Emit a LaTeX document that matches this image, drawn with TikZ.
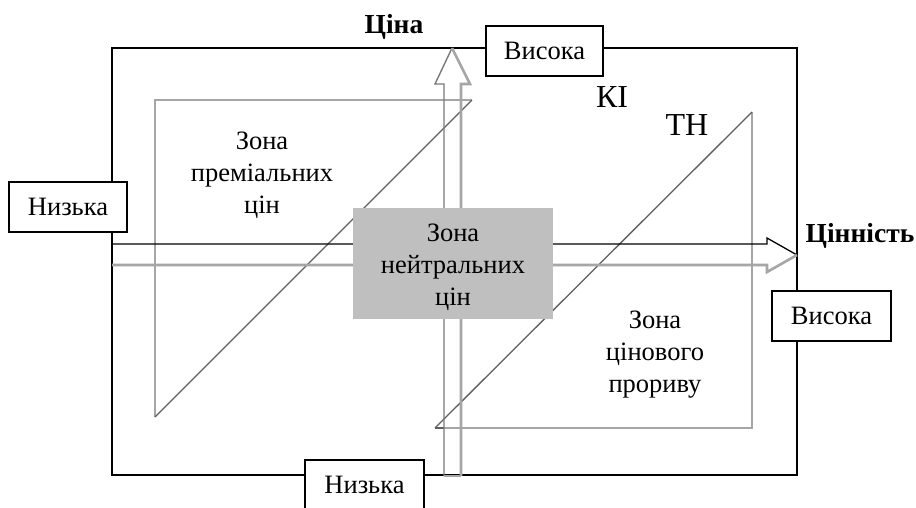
\documentclass[tikz,border=0pt]{standalone}
\usepackage{fontspec}
\setmainfont{Liberation Serif}
\definecolor{edgegray}{HTML}{A6A6A6}
\definecolor{diaggray}{HTML}{5F5F5F}
\definecolor{shaftdark}{HTML}{7A7A7A}
\definecolor{boxgray}{HTML}{BFBFBF}
\begin{document}
\begin{tikzpicture}[x=1pt,y=-1pt,
  every node/.style={inner sep=0pt, outer sep=0pt},
  frame/.style={draw=black, line width=1.4pt},
  triedge/.style={draw=edgegray, line width=2.2pt, line join=miter},
  diagline/.style={draw=diaggray, line width=1.3pt},
  blackrail/.style={draw=black, line width=1.3pt, line join=miter},
  grayrail/.style={draw=edgegray, line width=2.6pt, line join=miter},
  darkrail/.style={draw=shaftdark, line width=1.4pt, line join=miter},
  levelbox/.style={draw=black, line width=1.3pt, fill=white,
    minimum width=117pt, minimum height=50pt, font=\fontsize{26.5}{30}\selectfont},
  zonetext/.style={align=center, font=\fontsize{26.5}{32}\selectfont},
  axisname/.style={anchor=base, font=\bfseries\fontsize{27.5}{30}\selectfont},
  curvename/.style={anchor=base, font=\fontsize{32}{34}\selectfont},
]
\useasboundingbox (0,0) rectangle (916,507);
\fill[white] (0,0) rectangle (916,507);

% key points
\coordinate (frameNW) at (112,48);
\coordinate (frameSE) at (797,475);

% outer frame
\draw[frame] (frameNW) rectangle (frameSE);

% premium zone triangle
\coordinate (pA) at (155,417);
\coordinate (pB) at (155,100);
\coordinate (pC) at (472,100);
\draw[triedge] (pC) -- (pB) -- (pA);
\draw[diagline] (pA) -- (pC);

% breakthrough zone triangle
\coordinate (bA) at (435,428);
\coordinate (bB) at (752,428);
\coordinate (bC) at (752,112);
\draw[triedge] (bC) -- (bB) -- (bA);
\draw[diagline] (bA) -- (bC);
\draw[diagline] (bA) -- (444,428);

% value axis (horizontal double arrow)
\coordinate (vTipE) at (797,255);
\draw[blackrail] (112,244) -- (767,244) -- (767,238) -- (vTipE);
\draw[grayrail] (112,265) -- (767,265) -- (767,272) -- (vTipE);

% price axis (vertical double arrow)
\coordinate (pTipN) at (452,48);
\draw[darkrail] (444,476) -- (444,84) -- (435,84) -- (pTipN);
\draw[grayrail] (461,476) -- (461,84) -- (470,84) -- (pTipN);
\draw[draw=edgegray, line width=1.5pt] (444,476) -- (461,476);

% neutral zone
\node[fill=boxgray, minimum width=200pt, minimum height=111pt] (neutral) at (453,263) {};
\node[zonetext] (neutralText) at (453,267) {Зона\\нейтральних\\цін};

% zone captions
\node[zonetext] (premiumText) at (262,175) {Зона\\преміальних\\цін};
\node[zonetext] (breakText) at (655,355) {Зона\\цінового\\прориву};

% level boxes
\node[levelbox] (priceHigh) at (544.5,51) {Висока};
\node[levelbox, minimum width=118pt] (valueLow) at (68,207) {Низька};
\node[levelbox, minimum width=119pt] (valueHigh) at (831.5,316) {Висока};
\node[levelbox, minimum width=119pt] (priceLow) at (364.5,485) {Низька};

% axis names
\node[axisname] (priceName) at (394,33) {Ціна};
\node[axisname] (valueName) at (860,242) {Цінність};

% curve names
\node[curvename] (kiName) at (612,107) {КІ};
\node[curvename] (thName) at (687,135) {ТН};
\end{tikzpicture}
\end{document}
